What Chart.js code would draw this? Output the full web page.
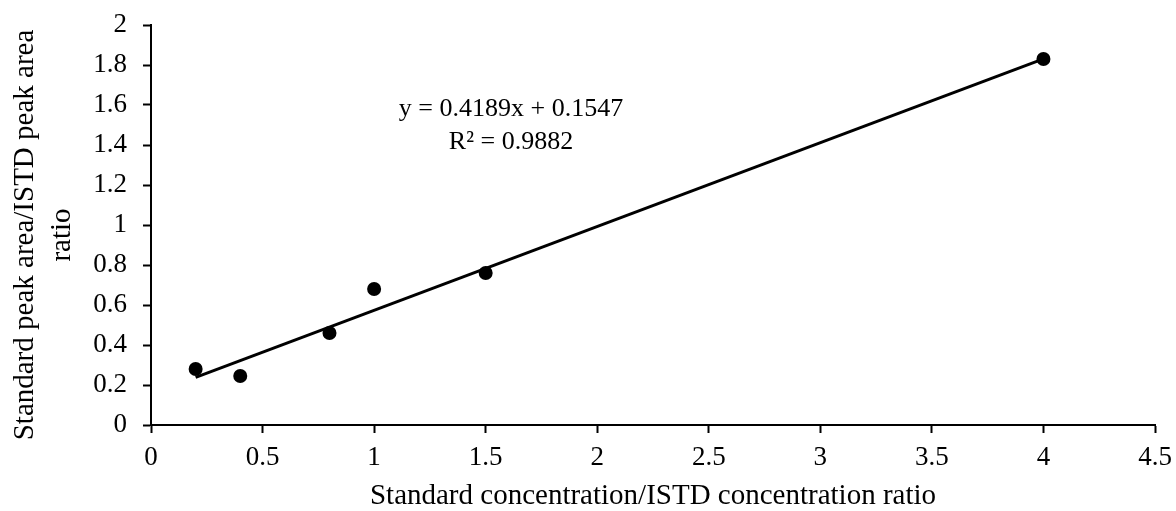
<!DOCTYPE html>
<html lang="en">
<head>
    <meta charset="UTF-8">
    <title>Calibration Curve</title>
    <script src="https://cdn.jsdelivr.net/npm/chart.js"></script>
    <style>
        body { margin: 0; background: #fff; }
        #wrap { width: 1176px; height: 511px; }
    </style>
</head>
<body>
    <div id="wrap">
        <canvas id="calChart" width="1176" height="511"></canvas>
    </div>

    <script>
        // Calibration points: concentration ratio vs peak area ratio
        const concRatio = [0.2, 0.4, 0.8, 1.0, 1.5, 4.0];
        const areaRatio = [0.28, 0.245, 0.46, 0.68, 0.76, 1.83];

        // Linear fit shown on the chart
        const slope = 0.4189;
        const intercept = 0.1547;
        const rSquared = 0.9882;
        const fitRange = [0.2, 4.0];

        const xTickLabels = ['0', '0.5', '1', '1.5', '2', '2.5', '3', '3.5', '4', '4.5'];
        const yTickLabels = ['0', '0.2', '0.4', '0.6', '0.8', '1', '1.2', '1.4', '1.6', '1.8', '2'];

        const FONT = "'Liberation Serif', 'Times New Roman', serif";

        const points = concRatio.map((x, i) => ({ x: x, y: areaRatio[i] }));
        const fitLine = fitRange.map(x => ({ x: x, y: slope * x + intercept }));

        // y axis title (two lines) and the fit equation
        const annotations = {
            id: 'annotations',
            afterDraw(chart) {
                const ctx = chart.ctx;
                const area = chart.chartArea;
                ctx.save();
                ctx.fillStyle = '#000';
                ctx.textAlign = 'center';
                ctx.textBaseline = 'middle';

                ctx.font = '26px ' + FONT;
                ctx.fillText('y = ' + slope + 'x + ' + intercept, area.left + 360, 109);
                ctx.fillText('R\u00b2 = ' + rSquared, area.left + 360, 142);

                ctx.font = '29px ' + FONT;
                ctx.translate(25, 235);
                ctx.rotate(-Math.PI / 2);
                ctx.fillText('Standard peak area/ISTD peak area', 0, 0);
                ctx.fillText('ratio', 0, 37);
                ctx.restore();
            }
        };

        const axisStyle = {
            grid: {
                display: true,
                drawOnChartArea: false,
                drawTicks: true,
                tickLength: 8,
                tickColor: '#000',
                tickWidth: 2
            },
            border: { display: true, color: '#000', width: 2 }
        };

        new Chart(document.getElementById('calChart'), {
            type: 'scatter',
            data: {
                datasets: [{
                    label: 'Fit',
                    data: fitLine,
                    showLine: true,
                    borderColor: '#000',
                    borderWidth: 3,
                    pointRadius: 0,
                    order: 1
                }, {
                    label: 'Standards',
                    data: points,
                    backgroundColor: '#000',
                    borderWidth: 0,
                    pointRadius: 7,
                    order: 2
                }]
            },
            options: {
                responsive: false,
                animation: false,
                layout: { padding: { top: 25, right: 21, left: 0, bottom: 0 } },
                plugins: {
                    legend: { display: false },
                    tooltip: { enabled: false }
                },
                scales: {
                    x: {
                        type: 'linear',
                        min: 0,
                        max: 4.5,
                        ...axisStyle,
                        afterFit: s => {
                            s.height = 86;
                            s.paddingLeft = 0;
                            s.paddingRight = 0;
                        },
                        ticks: {
                            stepSize: 0.5,
                            color: '#000',
                            padding: 9,
                            maxRotation: 0,
                            font: { family: FONT, size: 27 },
                            callback: (v, i) => xTickLabels[i]
                        },
                        title: {
                            display: true,
                            text: 'Standard concentration/ISTD concentration ratio',
                            color: '#000',
                            padding: 0,
                            font: { family: FONT, size: 29, lineHeight: 1 }
                        }
                    },
                    y: {
                        type: 'linear',
                        min: 0,
                        max: 2,
                        ...axisStyle,
                        afterFit: s => {
                            s.width = 151;
                            s.paddingTop = 0;
                            s.paddingBottom = 0;
                        },
                        ticks: {
                            stepSize: 0.2,
                            color: '#000',
                            padding: 16,
                            font: { family: FONT, size: 27 },
                            callback: (v, i) => yTickLabels[i]
                        }
                    }
                }
            },
            plugins: [annotations]
        });
    </script>
</body>
</html>
